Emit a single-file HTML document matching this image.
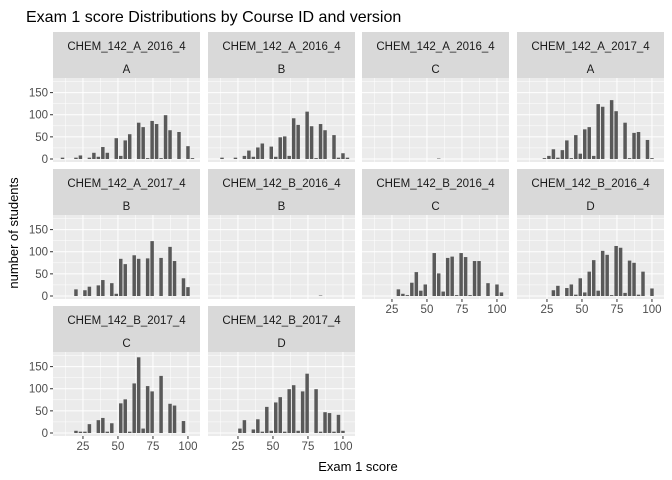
<!DOCTYPE html>
<html><head><meta charset="utf-8"><style>body{margin:0;background:#fff}svg{display:block;font-family:"Liberation Sans",sans-serif}</style></head>
<body>
<svg id="chart" width="672" height="480" viewBox="0 0 672 480" xmlns="http://www.w3.org/2000/svg">
<text x="26" y="22" font-size="16" fill="#000">Exam 1 score Distributions by Course ID and version</text>
<text transform="translate(18,233) rotate(-90)" text-anchor="middle" font-size="13" fill="#000">number of students</text>
<text x="358" y="471" text-anchor="middle" font-size="13" fill="#000">Exam 1 score</text>
</svg>
<script>
const courses = ["CHEM_142_A_2016_4","CHEM_142_A_2016_4","CHEM_142_A_2016_4","CHEM_142_A_2017_4","CHEM_142_A_2017_4","CHEM_142_B_2016_4","CHEM_142_B_2016_4","CHEM_142_B_2016_4","CHEM_142_B_2017_4","CHEM_142_B_2017_4"];
const versions = ["A","B","C","A","B","B","C","D","C","D"];
const binStart = 4, binWidth = 3.2;
// counts per panel: [binIndex, count]
const p1 = [[2,3],[5,3],[6,8],[8,3],[9,14],[10,5],[11,27],[12,14],[14,47],[15,7],[16,42],[17,56],[19,82],[20,72],[21,2],[22,86],[23,79],[24,2],[25,99],[26,65],[28,61],[30,29],[31,2]];
const p2 = [[3,3],[6,3],[8,7],[9,19],[10,5],[11,26],[12,35],[14,28],[15,5],[16,49],[17,51],[18,7],[19,92],[20,77],[22,107],[23,74],[24,2],[25,79],[26,65],[28,54],[29,3],[30,13],[31,3]];
const p3 = [[17,1]];
const p4 = [[6,2],[7,7],[8,22],[9,3],[10,20],[11,42],[12,2],[13,54],[14,12],[15,67],[16,72],[17,7],[18,124],[19,118],[21,133],[22,108],[24,82],[25,2],[26,59],[27,61],[29,43],[30,2]];
const p5 = [[5,15],[7,13],[8,21],[10,24],[11,36],[13,29],[14,5],[15,84],[16,72],[18,92],[19,84],[21,85],[22,124],[24,86],[26,111],[27,79],[29,40],[30,20]];
const p6 = [[25,1]];
const p7 = [[8,15],[9,5],[10,2],[11,30],[12,54],[13,12],[14,26],[16,97],[17,51],[18,10],[19,86],[20,89],[21,2],[22,97],[23,88],[24,2],[25,79],[26,79],[28,29],[30,26],[31,8]];
const p8 = [[8,13],[9,23],[11,18],[12,26],[13,3],[14,40],[15,8],[16,55],[17,81],[18,12],[19,102],[20,93],[21,2],[22,113],[23,109],[24,7],[25,80],[26,75],[27,3],[28,55],[30,17]];
const p9 = [[5,5],[6,3],[7,3],[8,20],[10,29],[11,34],[12,3],[13,22],[15,67],[16,76],[17,3],[18,112],[19,171],[20,10],[21,106],[22,94],[24,129],[26,66],[27,62],[29,27]];
const p10 = [[7,10],[8,29],[10,8],[11,31],[12,3],[13,59],[14,5],[15,69],[16,81],[17,3],[18,99],[19,108],[20,5],[21,94],[22,134],[24,99],[25,3],[26,47],[27,45],[28,3],[29,41],[30,5]];
const panelData = [p1,p2,p3,p4,p5,p6,p7,p8,p9,p10];
const xTicks = [25,50,75,100];
const yTicks = [0,50,100,150];

const NS="http://www.w3.org/2000/svg", svg=document.getElementById("chart");
const colX=[53,208,362,517], rowY=[32,169,306], PW=147, SH=46, PH=84;
const xMin=3.6, xMax=108.6, yMin=-6.8, yMax=183;
function mk(t,a,p){const e=document.createElementNS(NS,t);for(const k in a)e.setAttribute(k,a[k]);(p||svg).appendChild(e);return e;}
function xs(v,l){return l+(v-xMin)/(xMax-xMin)*PW;}
function ys(v,t){return t+PH-(v-yMin)/(yMax-yMin)*PH;}
panelData.forEach((d,i)=>{
  const c=i%4, r=Math.floor(i/4), L=colX[c], T=rowY[r]+SH, S=rowY[r];
  const g=mk("g",{});
  
  
  const st=mk("rect",{x:L,y:S,width:PW,height:SH,fill:"#D9D9D9"},g);
  
  
  const t1=mk("text",{x:L+PW/2,y:S+18,"text-anchor":"middle","font-size":"11.5",fill:"#1A1A1A"},g);t1.textContent=courses[i];
  
  
  const t2=mk("text",{x:L+PW/2,y:S+41,"text-anchor":"middle","font-size":"11.5",fill:"#1A1A1A"},g);t2.textContent=versions[i];
  
  
  const bg=mk("rect",{x:L,y:T,width:PW,height:PH,fill:"#EBEBEB"},g);
  
  
  [12.5,37.5,62.5,87.5].forEach(v=>mk("line",{x1:xs(v,L),x2:xs(v,L),y1:T,y2:T+PH,stroke:"#fff","stroke-width":0.5},g));
  [25,75,125,175].forEach(v=>mk("line",{x1:L,x2:L+PW,y1:ys(v,T),y2:ys(v,T),stroke:"#fff","stroke-width":0.5},g));
  xTicks.forEach(v=>mk("line",{x1:xs(v,L),x2:xs(v,L),y1:T,y2:T+PH,stroke:"#fff","stroke-width":1},g));
  yTicks.forEach(v=>mk("line",{x1:L,x2:L+PW,y1:ys(v,T),y2:ys(v,T),stroke:"#fff","stroke-width":1},g));
  d.forEach(([k,n])=>{
    const cx=binStart+binWidth*k, x0=xs(cx-binWidth/2,L), x1=xs(cx+binWidth/2,L);
    const b=mk("rect",{x:x0+0.5,y:ys(n,T),width:x1-x0-1,height:ys(0,T)-ys(n,T),fill:"#595959"},g);
    
    
  });
  if(c===0){yTicks.forEach(v=>{const y=ys(v,T);mk("line",{x1:L-3,x2:L,y1:y,y2:y,stroke:"#333"},g);
    const tt=mk("text",{x:L-5,y:y+4,"text-anchor":"end","font-size":"11.5",fill:"#4D4D4D"},g);tt.textContent=v;
    
    });}
  if(r===2||(r===1&&c>=2)){xTicks.forEach(v=>{const x=xs(v,L);mk("line",{x1:x,x2:x,y1:T+PH,y2:T+PH+3,stroke:"#333"},g);
    const tt=mk("text",{x:x,y:T+PH+14,"text-anchor":"middle","font-size":"11.5",fill:"#4D4D4D"},g);tt.textContent=v;
    
    });}
});
</script>
</body></html>
